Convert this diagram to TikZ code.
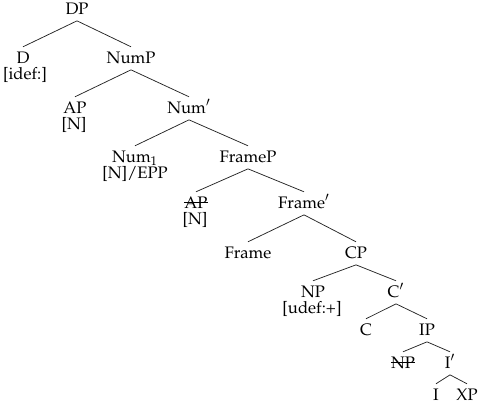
\documentclass[tikz,border=0pt]{standalone}
\usepackage[T1]{fontenc}
\usepackage{mathpazo}
\usepackage{tikz}
\newcommand{\xout}[1]{\setbox0\hbox{#1}\rlap{\rule[0.42\ht0]{\wd0}{0.45pt}}\box0}
\tikzset{
    cat/.style={
        anchor=base,
        inner sep=2.5pt,
        text height=1.5ex,
        text depth=0.3ex
    },
    feat/.style={
        anchor=base,
        inner sep=1pt
    },
    branch/.style={draw=black!85, line width=0.45pt}
}

\begin{document}
\begin{tikzpicture}[x=0.6pt,y=-0.6pt]
\useasboundingbox (0,0) rectangle (479,404);

\node[cat] (dp) at (77,14) {DP};

\node[cat] (d) at (23,63) {D};
\node[feat] (dfeat) at (25,79.5) {[idef:]};
\node[cat] (nump) at (131,63) {NumP};

\node[cat] (ap) at (75,113) {AP};
\node[feat] (apfeat) at (74,129.5) {[N]};
\node[cat] (numbar) at (189,113) {Num$'$};

\node[cat] (num) at (135,162) {Num$_1$};
\node[feat] (numfeat) at (135,178.5) {[N]/EPP};
\node[cat] (framep) at (248,162) {FrameP};

\node[cat] (apx) at (196,208) {\xout{AP}};
\node[feat] (apxfeat) at (195,224.5) {[N]};
\node[cat] (framebar) at (304,208) {Frame$'$};

\node[cat] (frame) at (248,258) {Frame};
\node[cat] (cp) at (356,258) {CP};

\node[cat] (np) at (313,297) {NP};
\node[feat] (npfeat) at (312,313.5) {[udef:+]};
\node[cat] (cbar) at (396,297) {C$'$};

\node[cat] (c) at (366,335) {C};
\node[cat] (ip) at (427,335) {IP};

\node[cat] (npx) at (403,368) {\xout{NP}};
\node[cat] (ibar) at (450,368) {I$'$};

\node[cat] (i) at (436,400) {I};
\node[cat] (xp) at (467,400) {XP};

\draw[branch] (dp.south) -- (d.north);
\draw[branch] (dp.south) -- (nump.north);
\draw[branch] (nump.south) -- (ap.north);
\draw[branch] (nump.south) -- (numbar.north);
\draw[branch] (numbar.south) -- (num.north);
\draw[branch] (numbar.south) -- (framep.north);
\draw[branch] (framep.south) -- (apx.north);
\draw[branch] (framep.south) -- (framebar.north);
\draw[branch] (framebar.south) -- (frame.north);
\draw[branch] (framebar.south) -- (cp.north);
\draw[branch] (cp.south) -- (np.north);
\draw[branch] (cp.south) -- (cbar.north);
\draw[branch] (cbar.south) -- (c.north);
\draw[branch] (cbar.south) -- (ip.north);
\draw[branch] (ip.south) -- (npx.north);
\draw[branch] (ip.south) -- (ibar.north);
\draw[branch] (ibar.south) -- (i.north);
\draw[branch] (ibar.south) -- (xp.north);
\end{tikzpicture}
\end{document}
